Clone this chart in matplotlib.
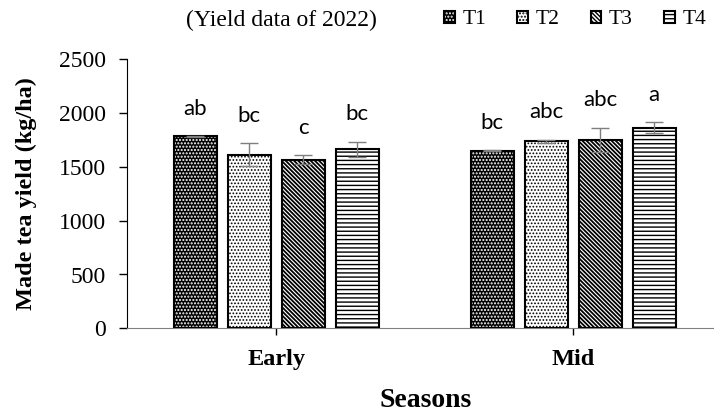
"""
Made tea yield by season and treatment, 2022
"""

import numpy as np
import matplotlib
matplotlib.use("Agg")
import matplotlib.pyplot as plt
from matplotlib.legend_handler import HandlerTuple

plt.rcParams['font.family'] = ['Liberation Serif', 'DejaVu Serif']

# Data
seasons = ['Early', 'Mid']
treatments = ['T1', 'T2', 'T3', 'T4']
yield_t1 = [1784, 1651]
yield_t2 = [1614, 1738]
yield_t3 = [1568, 1750]
yield_t4 = [1664, 1865]
err_t1 = [5, 5]
err_t2 = [105, 16]
err_t3 = [40, 115]
err_t4 = [72, 52]
letters_t1 = ['ab', 'bc']
letters_t2 = ['bc', 'abc']
letters_t3 = ['c', 'abc']
letters_t4 = ['bc', 'a']

means = [yield_t1, yield_t2, yield_t3, yield_t4]
errs = [err_t1, err_t2, err_t3, err_t4]
letters = [letters_t1, letters_t2, letters_t3, letters_t4]

# bar styling per treatment: (face, hatch colour, hatch, hatch linewidth)
styles = [
    ('black', 'white', '.....', 1.0),
    ('white', 'black', '.....', 0.8),
    ('white', 'black', '\\' * 8, 1.3),
    ('white', 'black', '----', 1.0),
]

fig = plt.figure(figsize=(7.14, 4.11), dpi=100)
ax = fig.add_axes([127 / 714, 82.7 / 411, 1 - 127 / 714, 269 / 411])

x = np.arange(len(seasons))
width = 0.145
pitch = 0.182
handles = []
for i, (vals, e, labs, (face, hcol, hatch, hlw)) in enumerate(zip(means, errs, letters, styles)):
    pos = x + (i - 1.5) * pitch
    with plt.rc_context({'hatch.linewidth': hlw}):
        fill = ax.bar(pos, vals, width, color=face, edgecolor=hcol, hatch=hatch,
                      linewidth=0, zorder=2)
    for p in fill:
        if hasattr(p, 'set_hatch_linewidth'):
            p.set_hatch_linewidth(hlw)
    edge = ax.bar(pos, vals, width, fill=False, edgecolor='black',
                  linewidth=1.5, zorder=3)
    ax.errorbar(pos, vals, yerr=e, fmt='none', ecolor='#7f7f7f',
                elinewidth=1.0, capsize=6.5, capthick=1.0, zorder=4)
    for px, v, ev, lab in zip(pos, vals, e, labs):
        ax.text(px, v + ev + 160, lab, ha='center', va='bottom',
                fontsize=16, family=['Lato', 'DejaVu Sans'])
    handles.append((fill[0], edge[0]))

ax.set_xlim(-0.5027, 1.474)
ax.set_ylim(0, 2500)
ax.set_yticks(np.arange(0, 2501, 500))
ax.set_xticks(x)
ax.set_xticklabels(seasons, fontsize=17.5, fontweight='bold')
ax.tick_params(axis='y', labelsize=17, length=6, width=1, direction='out', pad=9)
ax.tick_params(axis='x', length=5, width=1, direction='out', pad=10)
ax.spines['top'].set_visible(False)
ax.spines['right'].set_visible(False)
ax.spines['left'].set_color('black')
ax.spines['bottom'].set_color('#808080')

ax.set_ylabel('Made tea yield (kg/ha)', fontsize=17.5, fontweight='bold')
ax.yaxis.set_label_coords(-0.153, 0.5)
fig.text(426 / 714, 1 - 400 / 411, 'Seasons', ha='center', va='center',
         fontsize=20, fontweight='bold')

fig.text(281 / 714, 1 - 20 / 411, '(Yield data of 2022)', ha='center', va='center',
         fontsize=17)

fig.legend(handles, treatments, handler_map={tuple: HandlerTuple(ndivide=1, pad=0)},
           loc='center left', bbox_to_anchor=(444 / 714, 1 - 20 / 411), ncol=4,
           frameon=False, fontsize=15.5, handlelength=0.5, handleheight=0.5,
           handletextpad=0.35, columnspacing=1.45, borderaxespad=0, borderpad=0)

fig.savefig('out.png', dpi=100)
